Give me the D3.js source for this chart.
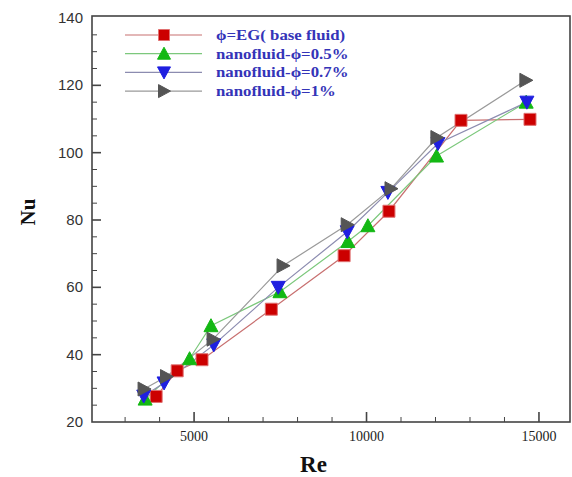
<!DOCTYPE html>
<html>
<head>
<meta charset="utf-8">
<script src="https://cdn.jsdelivr.net/npm/d3@7"></script>
<style>
  body { margin: 0; background: #fff; }
  .ylab text { font-family: "Liberation Sans", Arial, sans-serif; font-size: 15px; fill: #333; }
  .xlab text { font-family: "Liberation Serif", "Times New Roman", serif; font-size: 14px; fill: #222; }
</style>
</head>
<body>
<div id="chart"></div>
<script>
// data
const seriesNames = ['ϕ=EG( base fluid)', 'nanofluid-ϕ=0.5%', 'nanofluid-ϕ=0.7%', 'nanofluid-ϕ=1%'];

const reEG  = [3900, 4510, 5230, 7240, 9350, 10650, 12740, 14740];
const nuEG  = [27.6, 35.2, 38.5, 53.5, 69.4, 82.6, 109.6, 109.9];

const re05 = [3580, 4870, 5490, 7490, 9460, 10040, 12030, 14630];
const nu05 = [26.8, 38.8, 48.6, 58.7, 73.6, 78.3, 99.0, 115.0];

const re07 = [3540, 4130, 5570, 7440, 9440, 10620, 12070, 14650];
const nu07 = [27.7, 31.6, 42.9, 60.0, 76.5, 88.2, 102.7, 115.0];

const re1  = [3550, 4200, 5550, 7580, 9440, 10710, 12040, 14620];
const nu1  = [29.8, 33.5, 44.6, 66.4, 78.6, 89.3, 104.5, 121.5];

const xTicks = [5000, 10000, 15000];
const yTicks = [20, 40, 60, 80, 100, 120, 140];

const width = 572, height = 477;
const margin = {left: 92, right: 2, top: 18, bottom: 55};

let svg = d3.select("#chart").append("svg")
    .attr("width", width)
    .attr("height", height);

const x = d3.scaleLinear().domain([2040, 15900]).range([margin.left, width - margin.right]);
const y = d3.scaleLinear().domain([20, 140]).range([height - margin.bottom, margin.top]);

// series styling
const lineColors = ['#c87070', '#7cc87c', '#8c8cb0', '#9a9a9a'];
const markColors = ['#cc0000', '#13b813', '#1f1fe0', '#555555'];
const markStroke = ['#e07070', '#13b813', '#1f1fe0', '#555555'];
const symbols = ['square', 'up', 'down', 'right'];

const series = [
  {name: seriesNames[0], re: reEG, nu: nuEG},
  {name: seriesNames[1], re: re05, nu: nu05},
  {name: seriesNames[2], re: re07, nu: nu07},
  {name: seriesNames[3], re: re1,  nu: nu1}
];

function markerPath(kind, s) {
  const h = s / 2;
  if (kind === 'square') return `M${-h},${-h}H${h}V${h}H${-h}Z`;
  if (kind === 'up') return `M0,${-h - 1}L${h + 1},${h}L${-h - 1},${h}Z`;
  if (kind === 'down') return `M0,${h + 1}L${h + 1},${-h}L${-h - 1},${-h}Z`;
  return `M${h + 1},0L${-h},${-h - 1}L${-h},${h + 1}Z`;
}

// axes: minor and major ticks pointing inside
const y0 = height - margin.bottom;
const xMinor = d3.range(3000, 16000, 1000);
svg.append("g").selectAll("line").data(xMinor).enter().append("line")
    .attr("x1", d => x(d)).attr("x2", d => x(d))
    .attr("y1", y0).attr("y2", d => y0 - (d % 5000 === 0 ? 10 : 5))
    .attr("stroke", "#444").attr("stroke-width", d => d % 5000 === 0 ? 1.6 : 1);

const yMinor = d3.range(25, 140, 5);
svg.append("g").selectAll("line").data(yMinor).enter().append("line")
    .attr("y1", d => y(d)).attr("y2", d => y(d))
    .attr("x1", margin.left).attr("x2", d => margin.left + (d % 20 === 0 ? 9 : 5))
    .attr("stroke", "#444").attr("stroke-width", d => d % 20 === 0 ? 1.6 : 1);

svg.append("g").attr("class", "xlab").selectAll("text").data(xTicks).enter().append("text")
    .attr("x", d => x(d)).attr("y", y0 + 19)
    .attr("text-anchor", "middle")
    .text(d => d);

svg.append("g").attr("class", "ylab").selectAll("text").data(yTicks).enter().append("text")
    .attr("x", margin.left - 9).attr("y", d => y(d) + 5)
    .attr("text-anchor", "end")
    .text(d => d);

// frame
svg.append("rect")
    .attr("x", margin.left).attr("y", margin.top - 2)
    .attr("width", width - margin.right - margin.left)
    .attr("height", y0 - margin.top + 2)
    .attr("fill", "none").attr("stroke", "#444").attr("stroke-width", 1.6);

// lines
const lineGen = d3.line().x(d => x(d[0])).y(d => y(d[1]));
series.forEach((s, i) => {
  const pts = s.re.map((r, j) => [r, s.nu[j]]);
  svg.append("path")
      .attr("d", lineGen(pts))
      .attr("fill", "none")
      .attr("stroke", lineColors[i])
      .attr("stroke-width", 1.2);
});

// markers
series.forEach((s, i) => {
  const pts = s.re.map((r, j) => [r, s.nu[j]]);
  svg.append("g").selectAll("path").data(pts).enter().append("path")
      .attr("transform", d => `translate(${x(d[0])},${y(d[1])})`)
      .attr("d", markerPath(symbols[i], 12))
      .attr("fill", markColors[i])
      .attr("stroke", markStroke[i])
      .attr("stroke-width", 1);
});

// legend (text in the picture is stretched sideways)
const legendG = svg.append("g");
series.forEach((s, i) => {
  const ly = 35 + i * 18.7;
  legendG.append("line")
      .attr("x1", 125).attr("x2", 202).attr("y1", ly).attr("y2", ly)
      .attr("stroke", lineColors[i]).attr("stroke-width", 1.2);
  legendG.append("path")
      .attr("transform", `translate(164,${ly})`)
      .attr("d", markerPath(symbols[i], 11))
      .attr("fill", markColors[i])
      .attr("stroke", markStroke[i]);
  legendG.append("text")
      .attr("transform", `translate(216,${ly + 5}) scale(1.2,1)`)
      .style("font-family", "'Liberation Serif', 'Times New Roman', serif")
      .style("font-weight", "bold")
      .style("font-size", "14px")
      .style("fill", "#3434b8")
      .text(s.name);
});

// axis titles
svg.append("text")
    .attr("x", x(10000) - 53).attr("y", 472)
    .attr("text-anchor", "middle")
    .style("font-family", "'Liberation Serif', 'Times New Roman', serif")
    .style("font-weight", "bold").style("font-size", "23px").style("fill", "#111")
    .text("Re");

svg.append("text")
    .attr("transform", "translate(35,212) rotate(-90)")
    .attr("text-anchor", "middle")
    .style("font-family", "'Liberation Serif', 'Times New Roman', serif")
    .style("font-weight", "bold").style("font-size", "21px").style("fill", "#111")
    .text("Nu");
</script>
</body>
</html>
